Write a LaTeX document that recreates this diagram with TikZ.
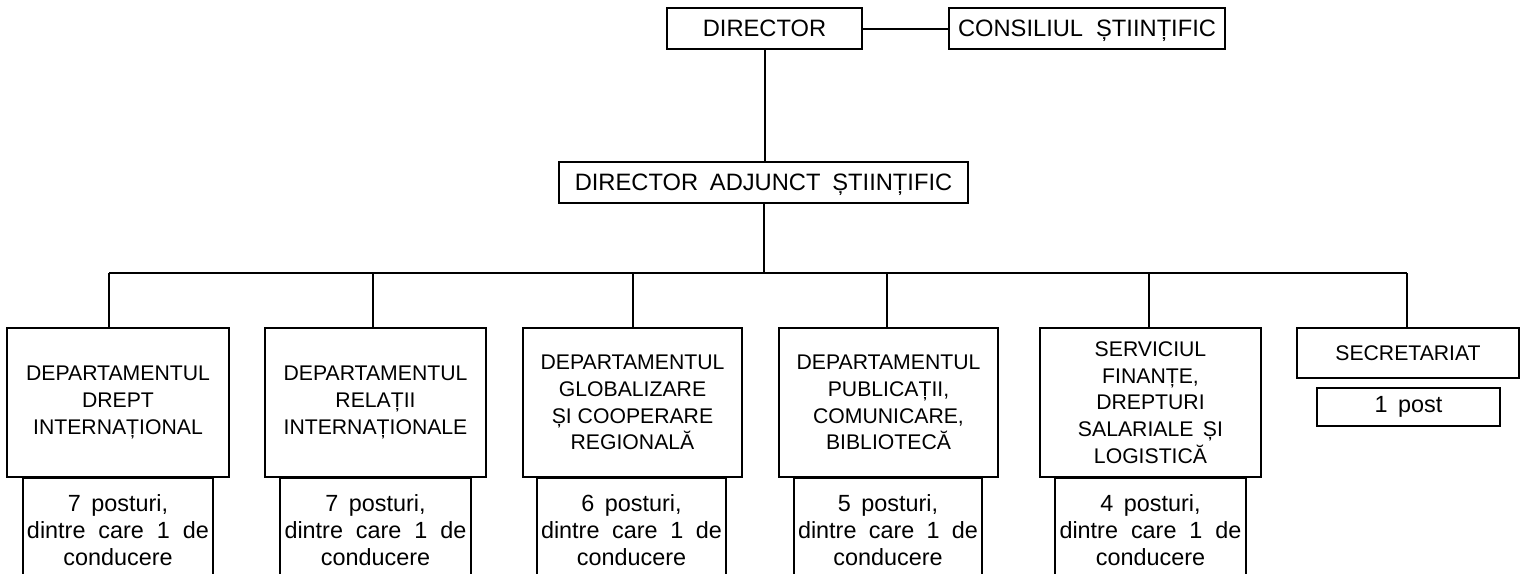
\documentclass[tikz,border=0pt]{standalone}
\usepackage{fontspec}
\setmainfont{Liberation Sans}
\begin{document}
\begin{tikzpicture}[x=1pt,y=-1pt,
  box/.style={draw, line width=2pt, rectangle, inner sep=0pt, align=center},
  topbox/.style={box, font=\fontsize{23.7}{28}\selectfont, minimum height=41pt, text depth=0pt},
  deptbox/.style={box, font=\fontsize{21.2}{26.7}\selectfont, minimum height=149pt},
  subbox/.style={box, font=\fontsize{23.4}{26.7}\selectfont, minimum height=104pt},
  secbox/.style={box, font=\fontsize{21.2}{26.7}\selectfont},
  link/.style={line width=2pt}
]
\clip (0,0) rectangle (1522,573);
% top level
\node[topbox, minimum width=195pt] (dir) at (764.5,28.5) {DIRECTOR};
\node[topbox, minimum width=276pt] (cons) at (1087,28.5) {CONSILIUL\hspace{0.55em}ȘTIINȚIFIC};
\node[topbox, minimum width=409pt] (adj) at (763.5,182.5) {DIRECTOR\hspace{0.5em}ADJUNCT\hspace{0.5em}ȘTIINȚIFIC};
% departments
\node[deptbox, minimum width=222pt] (b1) at (118,402.5) {DEPARTAMENTUL\\DREPT\\INTERNAȚIONAL};
\node[deptbox, minimum width=221pt] (b2) at (375.5,402.5) {DEPARTAMENTUL\\RELAȚII\\INTERNAȚIONALE};
\node[deptbox, minimum width=219pt] (b3) at (632.5,402.5) {DEPARTAMENTUL\\GLOBALIZARE\\ȘI COOPERARE\\REGIONALĂ};
\node[deptbox, minimum width=219pt] (b4) at (888.5,402.5) {DEPARTAMENTUL\\PUBLICAȚII,\\COMUNICARE,\\BIBLIOTECĂ};
\node[deptbox, minimum width=221pt] (b5) at (1150.5,402.5) {SERVICIUL\\FINANȚE,\\DREPTURI\\SALARIALE\hspace{0.45em}ȘI\\LOGISTICĂ};
\node[secbox, minimum width=222pt, minimum height=50pt] (sec) at (1408,353) {SECRETARIAT};
% staff counts
\node[subbox, minimum width=190pt] (s1) at (118,530) {7\hspace{0.45em}posturi,\\\makebox[182pt][s]{dintre care 1 de}\\conducere};
\node[subbox, minimum width=191pt] (s2) at (375.5,530) {7\hspace{0.45em}posturi,\\\makebox[182pt][s]{dintre care 1 de}\\conducere};
\node[subbox, minimum width=189pt] (s3) at (631.5,530) {6\hspace{0.45em}posturi,\\\makebox[181pt][s]{dintre care 1 de}\\conducere};
\node[subbox, minimum width=188pt] (s4) at (888,530) {5\hspace{0.45em}posturi,\\\makebox[180pt][s]{dintre care 1 de}\\conducere};
\node[subbox, minimum width=191pt] (s5) at (1150.5,530) {4\hspace{0.45em}posturi,\\\makebox[182pt][s]{dintre care 1 de}\\conducere};
\node[box, font=\fontsize{23.4}{26.7}\selectfont, minimum width=183pt, minimum height=38pt] (post) at (1408.5,407) {1\hspace{0.45em}post};
% connectors
\draw[link] (dir.east) -- (cons.west);
\draw[link] (dir.south) -- (dir.south |- adj.north);
\coordinate (busL) at (109,273);
\coordinate (busR) at (1407,273);
\coordinate (d2) at (373,273);
\coordinate (d3) at (633,273);
\coordinate (d4) at (887,273);
\coordinate (d5) at (1149,273);
\draw[link] (adj.south) -- (adj.south |- busL);
\draw[link] (busL) -- (busR);
\draw[link] (busL) -- (busL |- b1.north);
\draw[link] (d2) -- (d2 |- b2.north);
\draw[link] (d3) -- (d3 |- b3.north);
\draw[link] (d4) -- (d4 |- b4.north);
\draw[link] (d5) -- (d5 |- b5.north);
\draw[link] (busR) -- (busR |- sec.north);
\end{tikzpicture}
\end{document}
